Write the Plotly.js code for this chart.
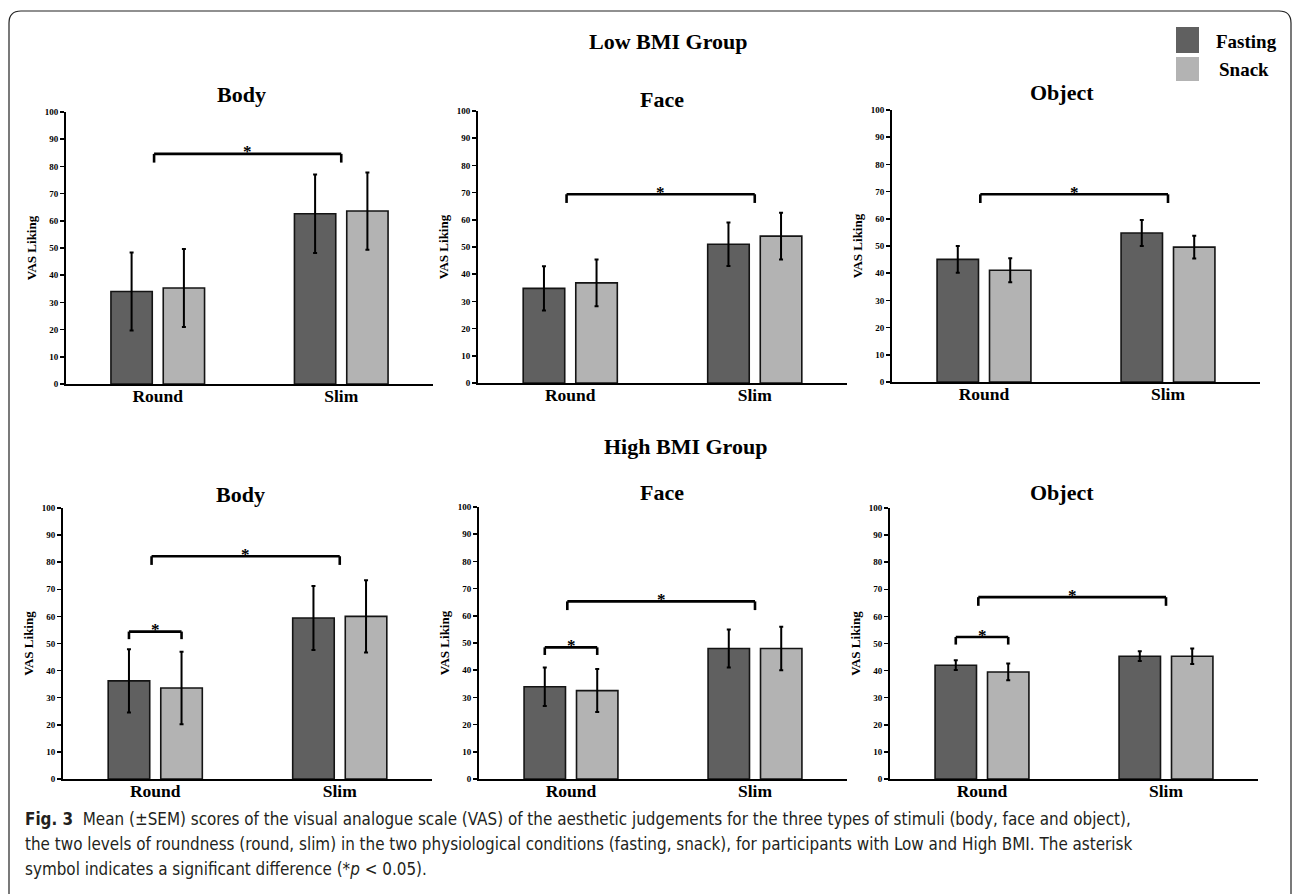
<!DOCTYPE html>
<html>
<head>
<meta charset="utf-8">
<script src="https://cdn.plot.ly/plotly-3.0.1.min.js"></script>
<style>
  html, body { margin: 0; padding: 0; background: #ffffff; }
  #chart { width: 1293px; height: 894px; }
</style>
</head>
<body>
<div id="chart"></div>
<script>
// ---------------- DATA ----------------
const categories = ['Round', 'Slim'];
const stimuli = ['Body', 'Face', 'Object'];
const conditions = ['Fasting', 'Snack'];
const yTicks = [0, 10, 20, 30, 40, 50, 60, 70, 80, 90, 100];

// Low BMI group (mean, SEM) for [Round, Slim]
const lowBodyFasting = [34.0, 62.6];
const lowBodyFastingSEM = [14.3, 14.4];
const lowBodySnack = [35.3, 63.6];
const lowBodySnackSEM = [14.3, 14.2];
const lowFaceFasting = [34.8, 51.0];
const lowFaceFastingSEM = [8.1, 8.0];
const lowFaceSnack = [36.8, 54.0];
const lowFaceSnackSEM = [8.6, 8.6];
const lowObjectFasting = [45.1, 54.8];
const lowObjectFastingSEM = [4.9, 4.8];
const lowObjectSnack = [41.1, 49.6];
const lowObjectSnackSEM = [4.4, 4.2];

// High BMI group (mean, SEM) for [Round, Slim]
const highBodyFasting = [36.2, 59.4];
const highBodyFastingSEM = [11.7, 11.8];
const highBodySnack = [33.6, 60.0];
const highBodySnackSEM = [13.4, 13.3];
const highFaceFasting = [33.9, 48.0];
const highFaceFastingSEM = [7.1, 7.0];
const highFaceSnack = [32.5, 48.0];
const highFaceSnackSEM = [7.9, 8.0];
const highObjectFasting = [42.0, 45.3];
const highObjectFastingSEM = [1.8, 1.8];
const highObjectSnack = [39.5, 45.3];
const highObjectSnackSEM = [3.1, 2.9];

// Significance brackets: level (VAS units) per stimulus [Body, Face, Object]
const lowRoundVsSlimLevel = [84.6, 69.4, 69.0];
const highRoundVsSlimLevel = [82.2, 65.3, 67.1];
const highFastingVsSnackRoundLevel = [54.4, 48.4, 52.4];

// ---------------- STYLE / LAYOUT ----------------
const W = 1293, H = 894;
const DARK = '#606060';
const LIGHT = '#b3b3b3';
const SERIF = 'Liberation Serif, Times New Roman, serif';
const X = px => px / W;
const Y = py => 1 - py / H;

// panel pixel boxes [x0, x1, yTop, yBottom]
const boxes = [
  [66, 433, 112, 384], [478, 847, 111, 383], [892, 1260, 110, 382],
  [63, 432, 508, 779], [479, 847, 507, 779], [890, 1258, 508, 779]
];
const titlePos = [[241, 94], [662, 99], [1062, 92], [240, 494], [662, 492], [1062, 492]];

const panelData = [
  [lowBodyFasting, lowBodyFastingSEM, lowBodySnack, lowBodySnackSEM],
  [lowFaceFasting, lowFaceFastingSEM, lowFaceSnack, lowFaceSnackSEM],
  [lowObjectFasting, lowObjectFastingSEM, lowObjectSnack, lowObjectSnackSEM],
  [highBodyFasting, highBodyFastingSEM, highBodySnack, highBodySnackSEM],
  [highFaceFasting, highFaceFastingSEM, highFaceSnack, highFaceSnackSEM],
  [highObjectFasting, highObjectFastingSEM, highObjectSnack, highObjectSnackSEM]
];

const BARGAP = 0.43, BARGROUPGAP = 0.21;
const barOffset = (1 - BARGAP) / 4; // center offset of each bar in a group

const traces = [];
const layout = {
  width: W, height: H,
  margin: {l: 0, r: 0, t: 0, b: 0},
  paper_bgcolor: '#ffffff', plot_bgcolor: 'rgba(0,0,0,0)',
  barmode: 'group', bargap: BARGAP, bargroupgap: BARGROUPGAP,
  showlegend: false,
  annotations: [], shapes: []
};

panelData.forEach((pd, i) => {
  const n = i + 1;
  const xa = 'x' + (n === 1 ? '' : n), ya = 'y' + (n === 1 ? '' : n);
  const xKey = 'xaxis' + (n === 1 ? '' : n), yKey = 'yaxis' + (n === 1 ? '' : n);
  const b = boxes[i];
  const cols = [DARK, LIGHT];
  [0, 1].forEach(k => {
    traces.push({
      type: 'bar', x: categories, y: pd[2 * k], name: conditions[k],
      xaxis: xa, yaxis: ya, showlegend: false,
      marker: {color: cols[k], line: {color: '#141414', width: 1.6}},
      error_y: {type: 'data', array: pd[2 * k + 1], visible: true, color: '#000000', thickness: 2, width: 2},
      hoverinfo: 'y'
    });
  });
  layout[xKey] = {
    domain: [X(b[0]), X(b[1])], anchor: ya, type: 'category', range: [-0.5, 1.5],
    showline: true, linecolor: '#000000', linewidth: 2, ticks: '', showgrid: false, zeroline: false,
    ticklabelstandoff: -5,
    tickfont: {family: SERIF, size: 17.5, color: '#000000', weight: 'bold'}
  };
  layout[yKey] = {
    domain: [Y(b[3]), Y(b[2])], anchor: xa, range: [0, 100],
    tickvals: yTicks, ticktext: yTicks.map(String),
    showline: true, linecolor: '#000000', linewidth: 2,
    ticks: 'outside', ticklen: 4, tickwidth: 1.5, tickcolor: '#000000',
    showgrid: false, zeroline: false,
    tickfont: {family: SERIF, size: 9, color: '#000000', weight: 'bold'},
    title: {text: 'VAS Liking', standoff: 5, font: {family: SERIF, size: 13, color: '#000000', weight: 'bold'}}
  };
  // panel title
  layout.annotations.push({
    xref: 'paper', yref: 'paper', x: X(titlePos[i][0]), y: Y(titlePos[i][1]),
    text: '<b>' + stimuli[i % 3] + '</b>', showarrow: false, xanchor: 'center', yanchor: 'middle',
    font: {family: SERIF, size: 22, color: '#000000'}
  });
});

function bracket(n, xL, xR, level, drop) {
  const xr = 'x' + (n === 1 ? '' : n), yr = 'y' + (n === 1 ? '' : n);
  const ln = {color: '#000000', width: 2.6};
  layout.shapes.push(
    {type: 'line', xref: xr, yref: yr, x0: xL, x1: xR, y0: level, y1: level, line: ln},
    {type: 'line', xref: xr, yref: yr, x0: xL, x1: xL, y0: level, y1: level - drop, line: ln},
    {type: 'line', xref: xr, yref: yr, x0: xR, x1: xR, y0: level, y1: level - drop, line: ln}
  );
  layout.annotations.push({
    xref: xr, yref: yr, x: (xL + xR) / 2, y: level, text: '<b>*</b>', showarrow: false,
    xanchor: 'center', yanchor: 'middle', yshift: 2,
    font: {family: SERIF, size: 17, color: '#000000'}
  });
}
lowRoundVsSlimLevel.forEach((lv, j) => bracket(j + 1, -0.02, 1.0, lv, 3.2));
highRoundVsSlimLevel.forEach((lv, j) => bracket(j + 4, -0.02, 1.0, lv, 3.2));
highFastingVsSnackRoundLevel.forEach((lv, j) => bracket(j + 4, -barOffset, barOffset, lv, 2.8));

// group headings
layout.annotations.push(
  {xref: 'paper', yref: 'paper', x: X(668), y: Y(41), text: '<b>Low BMI Group</b>', showarrow: false,
   xanchor: 'center', yanchor: 'middle', font: {family: SERIF, size: 22, color: '#000000'}},
  {xref: 'paper', yref: 'paper', x: X(685), y: Y(446), text: '<b>High BMI Group</b>', showarrow: false,
   xanchor: 'center', yanchor: 'middle', font: {family: SERIF, size: 22, color: '#000000'}}
);

// legend (custom swatches)
const legendRows = [[27, 53, 41, 1214], [57, 81, 69, 1217]];
[DARK, LIGHT].forEach((c, k) => {
  const r = legendRows[k];
  layout.shapes.push({type: 'rect', xref: 'paper', yref: 'paper', x0: X(1176), x1: X(1199), y0: Y(r[1]), y1: Y(r[0]),
    fillcolor: c, line: {width: 0}});
  layout.annotations.push({xref: 'paper', yref: 'paper', x: X(r[3]), y: Y(r[2]), text: '<b>' + conditions[k] + '</b>',
    showarrow: false, xanchor: 'left', yanchor: 'middle', font: {family: SERIF, size: 19, color: '#000000'}});
});

// frame
const rr = 12, fl = 9, fr = 1291, ft = 11, fb = 920;
layout.shapes.push({
  type: 'path', xref: 'paper', yref: 'paper',
  path: `M ${X(fl)},${Y(fb)} L ${X(fl)},${Y(ft + rr)} Q ${X(fl)},${Y(ft)} ${X(fl + rr)},${Y(ft)} ` +
        `L ${X(fr - rr)},${Y(ft)} Q ${X(fr)},${Y(ft)} ${X(fr)},${Y(ft + rr)} L ${X(fr)},${Y(fb)}`,
  line: {color: '#222222', width: 1.2}
});

// caption
const CAP = 'Liberation Sans Narrow, Arial Narrow, DejaVu Sans Condensed, sans-serif';
const captionLines = [
  '<b>Fig. 3</b>  Mean (±SEM) scores of the visual analogue scale (VAS) of the aesthetic judgements for the three types of stimuli (body, face and object),',
  'the two levels of roundness (round, slim) in the two physiological conditions (fasting, snack), for participants with Low and High BMI. The asterisk',
  'symbol indicates a significant difference (*<i>p</i> &lt; 0.05).'
];
const capY = [819, 844, 869];
captionLines.forEach((t, k) => layout.annotations.push({
  xref: 'paper', yref: 'paper', x: X(23), y: Y(capY[k]), text: t, showarrow: false,
  xanchor: 'left', yanchor: 'middle', align: 'left', font: {family: CAP, size: 16.9, color: '#231f20'}
}));

Plotly.newPlot('chart', traces, layout, {displayModeBar: false, staticPlot: true});
</script>
</body>
</html>
